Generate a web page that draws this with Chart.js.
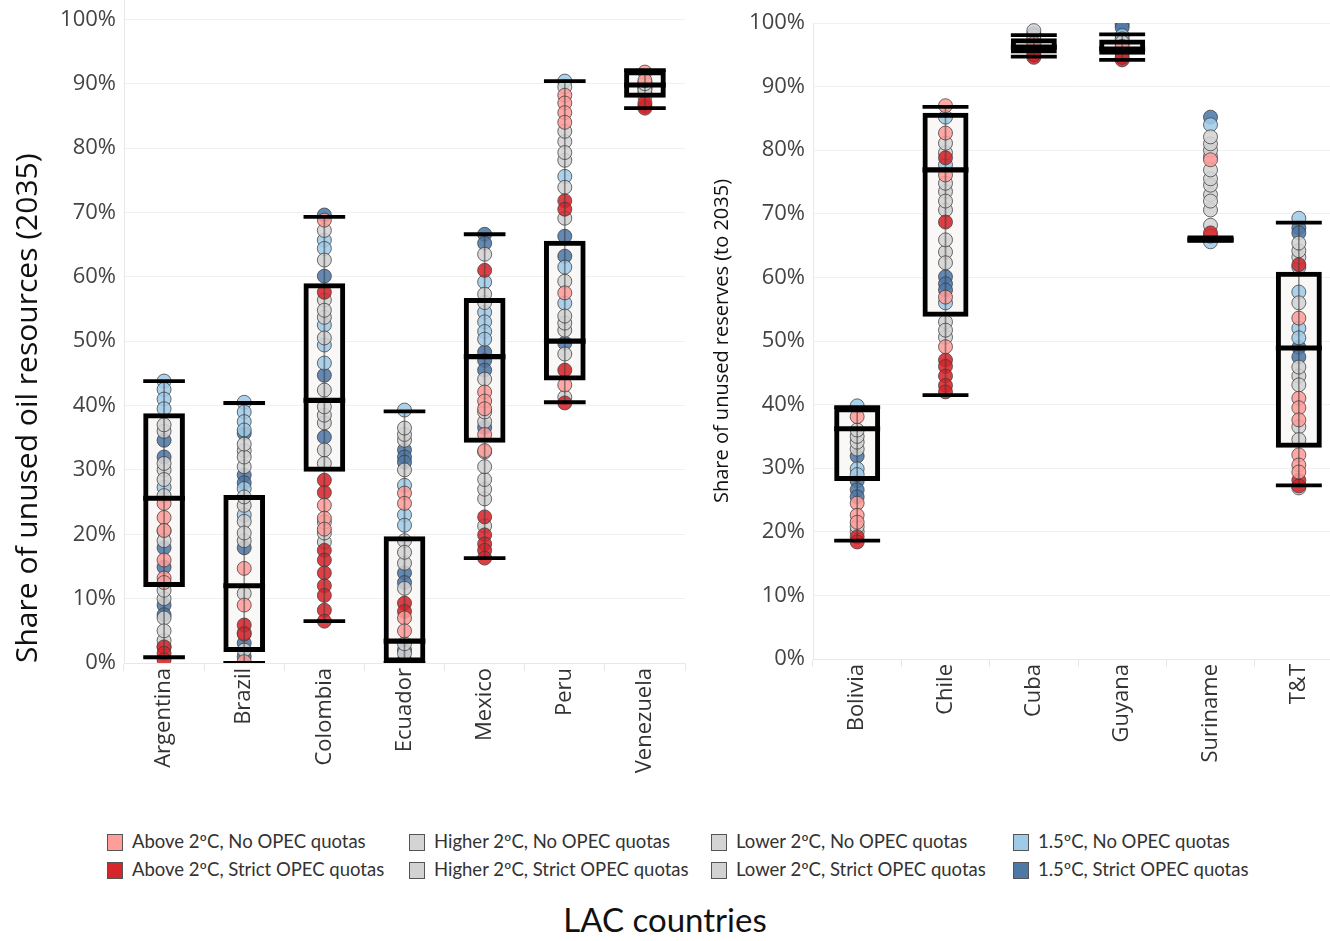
<!DOCTYPE html>
<html>
<head>
<meta charset="utf-8">
<script src="https://cdn.jsdelivr.net/npm/chart.js@4.4.1/dist/chart.umd.min.js"></script>
<style>
  html, body { margin: 0; padding: 0; background: #fff; overflow: hidden; }
  body { width: 1330px; height: 941px; position: relative; font-family: 'Open Sans', sans-serif; }
  #leftWrap { position: absolute; left: 0; top: 0; }
  #rightWrap { position: absolute; left: 700px; top: 0; }
  .lg { position: absolute; font-family: Lato, sans-serif; font-size: 18.5px; color: #333; white-space: nowrap; line-height: 20px; }
  .lg i { display: inline-block; width: 14px; height: 15px; border: 1px solid #555; vertical-align: -3px; margin-right: 9px; }
  #xTitle { position: absolute; left: 0; width: 1330px; top: 899px; text-align: center; font-family: Lato, sans-serif; font-size: 33px; color: #111; }
</style>
</head>
<body>
<div id="leftWrap"><canvas id="leftChart" width="690" height="800"></canvas></div>
<div id="rightWrap"><canvas id="rightChart" width="643" height="800"></canvas></div>
<div id="legend"></div>
<div id="xTitle">LAC countries</div>
<script>
// Countries
const leftCountries = ['Argentina', 'Brazil', 'Colombia', 'Ecuador', 'Mexico', 'Peru', 'Venezuela'];
const rightCountries = ['Bolivia', 'Chile', 'Cuba', 'Guyana', 'Suriname', 'T&T'];

// Y tick values (%)
const yTicks = [0, 10, 20, 30, 40, 50, 60, 70, 80, 90, 100];

// Scenarios (legend order)
const scenarios = [
    'Above 2ºC, No OPEC quotas', 'Above 2ºC, Strict OPEC quotas',
    'Higher 2ºC, No OPEC quotas', 'Higher 2ºC, Strict OPEC quotas',
    'Lower 2ºC, No OPEC quotas', 'Lower 2ºC, Strict OPEC quotas',
    '1.5ºC, No OPEC quotas', '1.5ºC, Strict OPEC quotas'
];
const scenarioColors = ['#ff9d9a', '#d7262b', '#d4d4d4', '#d2d2d2', '#d4d4d4', '#d2d2d2', '#a0cbe8', '#4e79a7'];

// Share of unused oil resources (%), one list per country - left panel
const aboveNoLeft = [[24.8, 22.6, 20.6, 16.0, 13.2, 12.5], [14.7, 9.0, 0.2], [68.8, 24.5, 22.5, 20.8], [26.4, 24.8, 7.0, 5.0], [42.1, 40.7, 39.5, 35.5, 33.0], [88.2, 87.0, 85.5, 84.0, 57.5, 43.2], [91.8, 90.5]];
const aboveStrictLeft = [[2.5, 1.5, 0.5], [5.9, 4.5], [57.6, 28.4, 26.5, 17.5, 16.0, 14.0, 12.0, 10.5, 8.2, 6.5], [9.3, 8.0], [61.0, 22.7, 19.9, 18.5, 17.5, 16.3], [71.8, 70.5, 45.5, 40.4], [86.5, 86.2, 87.0]];
const higherNoLeft = [[37.0, 28.5, 11.3, 5.0], [34.0, 25.8, 10.8], [67.2, 54.8, 39.8, 31.0], [36.5, 17.2, 3.0], [63.5, 44.1, 30.5], [89.5, 79.3, 59.3, 48.0], [90.0]];
const higherStrictLeft = [[36.0, 26.0, 10.0, 3.5], [32.0, 24.5, 4.7], [62.6, 53.7, 38.5, 21.9], [35.5, 15.5], [57.3, 39.0, 28.5], [82.6, 78.1, 53.9], [89.0]];
const lowerNoLeft = [[31.0, 19.0, 7.0], [30.5, 20.2, 2.0], [56.4, 42.4, 37.3, 20.2], [34.6, 11.6, 1.5], [56.0, 32.8, 27.0], [81.0, 73.9, 52.8], [88.0]];
const lowerStrictLeft = [[30.0, 20.5, 2.5], [33.0, 22.0, 19.0], [50.5, 33.1, 18.8], [30.0, 19.0], [37.5, 25.5, 21.3], [69.1, 51.7, 41.3], [89.3]];
const onefiveNoLeft = [[43.8, 42.5, 41.0, 39.5, 27.3], [40.5, 39.0, 37.5, 36.2, 27.1, 23.0], [65.7, 64.4, 52.5, 49.4, 46.6], [39.3, 27.6, 23.0, 21.4], [59.2, 54.5, 53.0, 51.5, 50.3], [90.4, 75.6, 61.5, 55.9], [89.5, 90.2]];
const onefiveStrictLeft = [[34.6, 32.0, 17.9, 14.9, 9.0, 7.5], [35.7, 29.2, 28.0, 17.9, 3.1, 1.0], [69.6, 60.1, 44.7, 35.1], [33.1, 32.0, 31.2, 14.0, 12.5, 2.0, 0.5], [66.6, 65.2, 48.3, 47.0, 45.5, 36.6], [66.3, 63.2, 49.7], [88.5]];

// Share of unused reserves (%) - right panel
const aboveNoRight = [[38.1, 24.5, 22.6, 21.5], [87.0, 82.7, 76.1, 56.9, 49.1], [96.8], [96.3], [78.5], [53.6, 41.0, 39.5, 37.6, 32.1, 30.5, 29.4]];
const aboveStrictRight = [[19.2, 18.4], [78.8, 68.7, 47.0, 46.0, 44.5, 43.0, 42.0], [94.6, 95.0], [94.2, 94.6], [67.0], [62.0, 28.1, 27.2]];
const higherNoRight = [[36.0, 20.8], [81.1, 72.0, 62.3], [98.8], [97.0], [82.1, 76.9, 72.0, 66.5], [65.4, 56.0, 34.5]];
const higherStrictRight = [[35.0, 20.0], [79.6, 70.6, 51.7], [97.5], [95.5], [81.0, 75.5, 70.6], [64.2, 45.9, 26.9]];
const lowerNoRight = [[34.1], [74.8, 65.9, 50.6], [96.0], [96.8], [80.0, 74.5, 68.2], [63.2, 43.1]];
const lowerStrictRight = [[33.0], [73.5, 64.0, 53.0], [95.5], [95.2], [79.0, 73.0], [44.5, 36.5]];
const onefiveNoRight = [[39.8, 29.9, 29.0], [85.2, 77.7, 56.0], [97.9], [98.0, 97.5], [84.0, 65.6], [69.3, 61.6, 57.7, 52.0, 50.5]];
const onefiveStrictRight = [[31.9, 28.0, 26.6, 25.5], [60.1, 59.0, 58.0], [98.3], [99.8, 99.3], [85.2], [67.8, 67.0, 49.0, 47.5]];

// Box plot statistics
const whiskLowLeft = [0.9, 0, 6.5, 0, 16.3, 40.5, 86.2];
const q1Left = [11.8, 1.7, 29.7, 0, 34.2, 43.9, 87.8];
const medianLeft = [25.6, 12.0, 40.8, 3.4, 47.6, 50.0, 89.8];
const q3Left = [38.8, 26.1, 59.0, 19.7, 56.7, 65.6, 92.1];
const whiskHighLeft = [43.8, 40.4, 69.3, 39.1, 66.6, 90.4, 92.1];

const whiskLowRight = [18.6, 41.5, 94.7, 94.2, 65.8, 27.3];
const q1Right = [28.0, 53.8, 95.2, 95.0, 65.5, 33.2];
const medianRight = [36.2, 76.9, 96.2, 95.9, 65.9, 48.9];
const q3Right = [39.6, 85.9, 97.6, 97.4, 66.3, 60.9];
const whiskHighRight = [39.6, 86.8, 98.1, 98.2, 66.3, 68.6];

const leftSeries = [aboveNoLeft, aboveStrictLeft, higherNoLeft, higherStrictLeft, lowerNoLeft, lowerStrictLeft, onefiveNoLeft, onefiveStrictLeft];
const rightSeries = [aboveNoRight, aboveStrictRight, higherNoRight, higherStrictRight, lowerNoRight, lowerStrictRight, onefiveNoRight, onefiveStrictRight];

Chart.defaults.font.family = "'Open Sans', sans-serif";
Chart.defaults.color = '#444';

const withAlpha = (hex, a) => {
    const n = parseInt(hex.slice(1), 16);
    return `rgba(${n >> 16}, ${(n >> 8) & 255}, ${n & 255}, ${a})`;
};

// Floating bar helper for box parts
const barSet = (data, extra) => Object.assign({
    type: 'bar', data: data, grouped: false, barPercentage: 1, categoryPercentage: 0.52,
    borderSkipped: false, clip: 0
}, extra);

const buildDatasets = (countries, series, lo, q1, med, q3, hi) => {
    const sets = [];
    // box fill, behind the points
    sets.push(barSet(q1.map((v, i) => [v, q3[i]]), { backgroundColor: 'rgba(250,248,246,0.95)', borderWidth: 0, order: 10 }));
    // scenario points
    series.forEach((arr, s) => {
        sets.push({
            type: 'line', label: scenarios[s], showLine: false, clip: 0, order: 5,
            data: arr.flatMap((vals, i) => vals.map(v => ({ x: countries[i], y: v }))),
            pointRadius: 7, pointBorderWidth: 1,
            pointBackgroundColor: withAlpha(scenarioColors[s], 0.88),
            pointBorderColor: 'rgba(60,60,60,0.75)'
        });
    });
    // thin whisker line
    sets.push(barSet(lo.map((v, i) => [v, hi[i]]), { backgroundColor: 'rgba(60,60,60,0.55)', borderWidth: 0, barThickness: 1, order: 3 }));
    // box outline
    sets.push(barSet(q1.map((v, i) => [v, q3[i]]), { backgroundColor: 'rgba(0,0,0,0)', borderColor: '#000', borderWidth: 5, order: 2 }));
    // median and whisker caps
    sets.push(barSet(med.map(v => [v - 0.4, v + 0.4]), { backgroundColor: '#000', borderWidth: 0, order: 1 }));
    sets.push(barSet(lo.map(v => [v - 0.3, v + 0.3]), { backgroundColor: '#000', borderWidth: 0, order: 1 }));
    sets.push(barSet(hi.map(v => [v - 0.3, v + 0.3]), { backgroundColor: '#000', borderWidth: 0, order: 1 }));
    return sets;
};

const makeChart = (id, countries, datasets, opts) => new Chart(document.getElementById(id), {
    type: 'bar',
    data: { labels: countries, datasets: datasets },
    options: {
        responsive: false,
        animation: false,
        events: [],
        layout: { autoPadding: false, padding: opts.padding },
        plugins: { legend: { display: false }, tooltip: { enabled: false } },
        scales: {
            x: {
                type: 'category',
                offset: true,
                grid: { offset: true, drawOnChartArea: false, drawTicks: true, tickLength: 8, color: '#e8e8e8' },
                border: { color: '#e8e8e8' },
                ticks: { autoSkip: false, minRotation: 90, maxRotation: 90, padding: -3, color: '#333', font: { size: 22 } },
                afterFit: s => { s.height = opts.xHeight; s.paddingLeft = 0; s.paddingRight = 0; }
            },
            y: {
                min: 0, max: opts.yMax,
                grid: { color: '#f0f0f0', drawTicks: false },
                border: { color: '#e8e8e8' },
                ticks: { padding: 8, color: '#444', font: { size: 22 }, callback: v => v + '%' },
                afterBuildTicks: s => { s.ticks = yTicks.map(v => ({ value: v })); },
                title: { display: true, text: opts.title, align: opts.titleAlign, color: '#111', font: { size: opts.titleSize }, padding: { top: 10, bottom: 0 } },
                afterFit: s => { s.width = opts.yWidth; s.paddingTop = 0; s.paddingBottom = 0; }
            }
        }
    }
});

makeChart('leftChart', leftCountries,
    buildDatasets(leftCountries, leftSeries, whiskLowLeft, q1Left, medianLeft, q3Left, whiskHighLeft),
    { padding: { top: 0, right: 5, left: 0, bottom: 0 }, xHeight: 137, yWidth: 124, yMax: 103,
      title: 'Share of unused oil resources (2035)', titleAlign: 'start', titleSize: 30 });

makeChart('rightChart', rightCountries,
    buildDatasets(rightCountries, rightSeries, whiskLowRight, q1Right, medianRight, q3Right, whiskHighRight),
    { padding: { top: 23, right: 0, left: 0, bottom: 0 }, xHeight: 141, yWidth: 113, yMax: 100,
      title: 'Share of unused reserves (to 2035)', titleAlign: 'center', titleSize: 20 });

// Legend: 4 columns x 2 rows, column-major
const legendEl = document.getElementById('legend');
const legendCols = [107, 409, 711, 1013];
const legendRows = [831, 859];
scenarios.forEach((name, i) => {
    const d = document.createElement('div');
    d.className = 'lg';
    d.style.left = legendCols[Math.floor(i / 2)] + 'px';
    d.style.top = legendRows[i % 2] + 'px';
    d.innerHTML = `<i style="background:${scenarioColors[i]}"></i>`;
    d.appendChild(document.createTextNode(name));
    legendEl.appendChild(d);
});
</script>
</body>
</html>
